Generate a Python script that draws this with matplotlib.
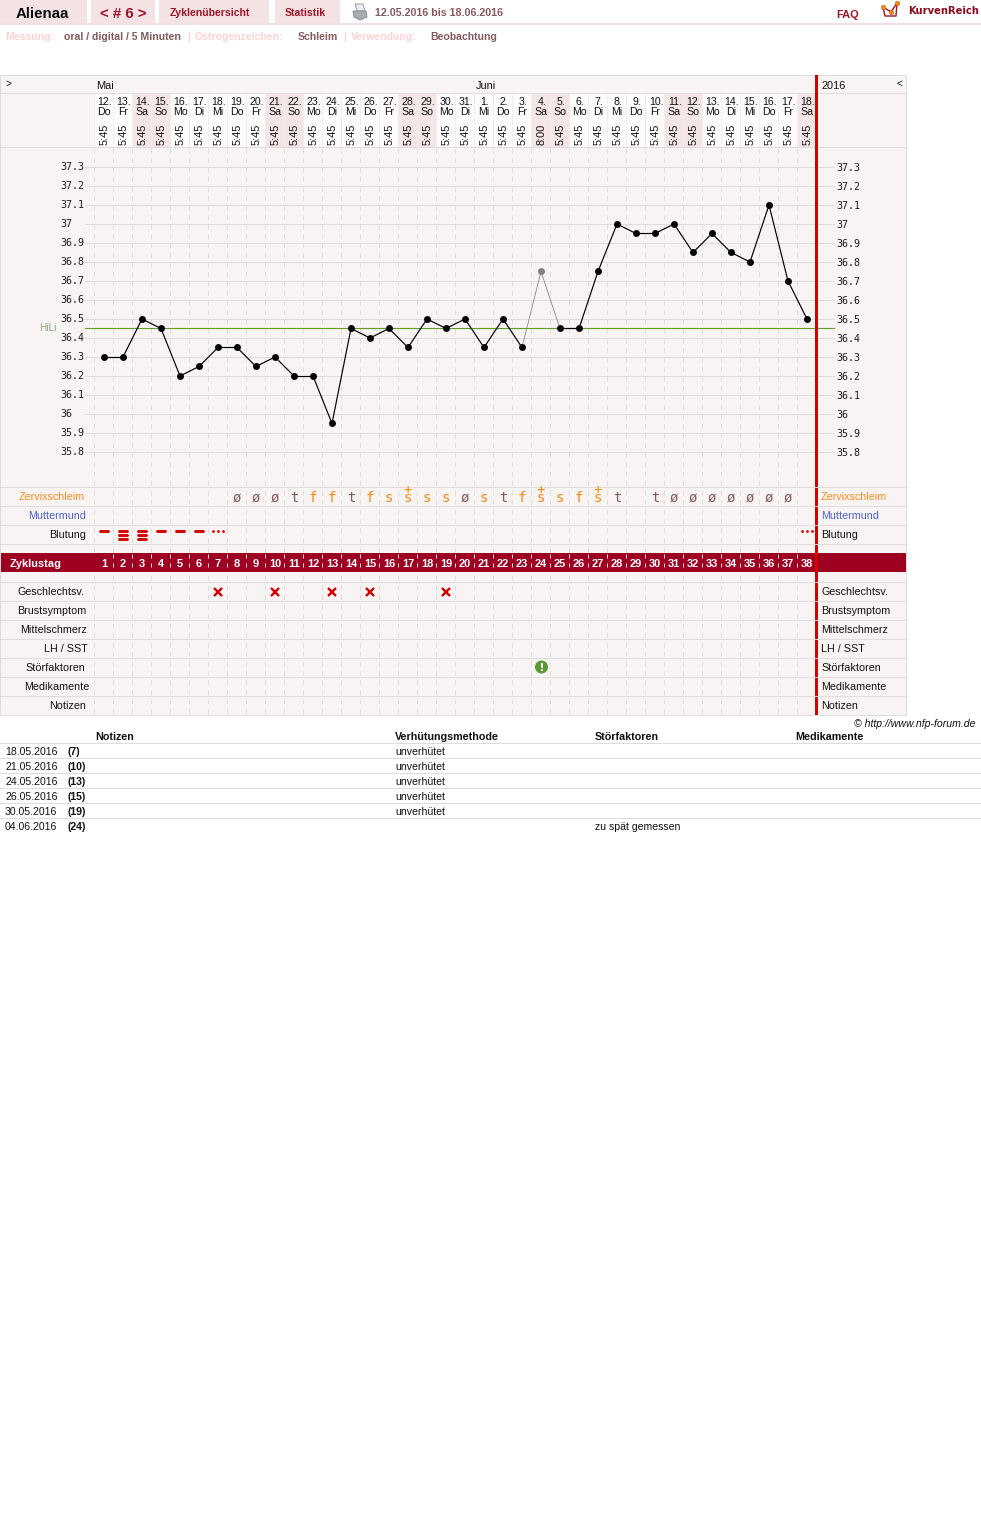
import matplotlib
matplotlib.use('Agg')
import matplotlib.pyplot as plt
from matplotlib.patches import Rectangle, Circle, Polygon

W, H = 981, 1515

# chart data
cycle_days = list(range(1, 39))
temps = [36.3, 36.3, 36.5, 36.45, 36.2, 36.25, 36.35, 36.35, 36.25, 36.3,
         36.2, 36.2, 35.95, 36.45, 36.4, 36.45, 36.35, 36.5, 36.45, 36.5,
         36.35, 36.5, 36.35, 36.75, 36.45, 36.45, 36.75, 37.0, 36.95, 36.95,
         37.0, 36.85, 36.95, 36.85, 36.8, 37.1, 36.7, 36.5]
excluded_days = [24]
hili = 36.45
temp_ticks = [35.8, 35.9, 36, 36.1, 36.2, 36.3, 36.4, 36.5, 36.6, 36.7, 36.8, 36.9, 37, 37.1, 37.2, 37.3]
dates = ['12.', '13.', '14.', '15.', '16.', '17.', '18.', '19.', '20.', '21.', '22.', '23.', '24.',
         '25.', '26.', '27.', '28.', '29.', '30.', '31.', '1.', '2.', '3.', '4.', '5.', '6.', '7.',
         '8.', '9.', '10.', '11.', '12.', '13.', '14.', '15.', '16.', '17.', '18.']
weekdays = ['Do', 'Fr', 'Sa', 'So', 'Mo', 'Di', 'Mi'] * 5 + ['Do', 'Fr', 'Sa']
times = ['5:45'] * 38
times[23] = '8:00'
mucus = [''] * 7 + ['ø', 'ø', 'ø', 't', 'f', 'f', 't', 'f', 's', 's+', 's', 's', 'ø', 's', 't', 'f',
                    's+', 's', 'f', 's+', 't', '', 't', 'ø', 'ø', 'ø', 'ø', 'ø', 'ø', 'ø', '']
bleeding_single = [1, 4, 5, 6]
bleeding_heavy = [2, 3]
bleeding_spot = [7, 38]
sex_days = [7, 10, 13, 15, 19]
disturb_days = [24]

left_labels = ['Zervixschleim', 'Muttermund', 'Blutung', 'Geschlechtsv.', 'Brustsymptom',
               'Mittelschmerz', 'LH / SST', 'Störfaktoren', 'Medikamente', 'Notizen']
left_ends = [85, 86, 86, 84, 86, 87, 88, 85, 89, 86]
label_rows = [496, 515, 534, 591, 610, 629, 648, 667, 686, 705]
label_colors = ['#ff8a1e', '#4c62cc', '#111111'] + ['#111111'] * 7

note_dates = ['18.05.2016', '21.05.2016', '24.05.2016', '26.05.2016', '30.05.2016', '04.06.2016']
note_cycle = ['(7)', '(10)', '(13)', '(15)', '(19)', '(24)']
note_method = ['unverhütet'] * 5 + ['']
note_disturb = [''] * 5 + ['zu spät gemessen']
note_heads = ['Notizen', 'Verhütungsmethode', 'Störfaktoren', 'Medikamente']
note_head_x = [95, 395, 595, 795]

PANEL = '#f9f4f4'
LINE = '#e0dcdb'
TAB = '#f4e3e5'
WEEKEND = '#f4e5e6'
DARK = '#9e0021'
RED = '#d50000'
BROWN = '#855a5f'
PINK = '#fbd3d5'
TABRED = '#a01428'
ORANGE = '#f58a12'
SANS = ['Liberation Sans', 'DejaVu Sans']
NARROW = ['Liberation Sans Narrow', 'Liberation Sans', 'DejaVu Sans']
MONO = ['DejaVu Sans Mono']


def px(size):
    return size * 0.72


def day_x(d):
    return 104 + 19 * (d - 1)


def page_axes(fig, z):
    a = fig.add_axes([0, 0, 1, 1], facecolor='none', zorder=z)
    a.set_xlim(0, W)
    a.set_ylim(H, 0)
    a.axis('off')
    return a


def txt(a, x, y, s, size=11, color='#111111', ha='left', weight='normal', family=SANS, **kw):
    # y is the middle of the capitals, drawn from the baseline so rows stay even
    return a.text(x, round(y + 0.36 * size), s, fontsize=px(size), color=color, ha=ha, va='baseline',
                  fontweight=weight, family=family, **kw)


fig = plt.figure(figsize=(W / 100, H / 100), dpi=100, facecolor='white')
bg = page_axes(fig, 0)
fg = page_axes(fig, 2)

# panel background
bg.add_patch(Rectangle((0, 75), 906, 640, fc=PANEL, ec=LINE, lw=0.72))
bg.add_patch(Rectangle((94, 94), 721, 53, fc='#fefbfb', ec='none'))
for d, wd in zip(cycle_days, weekdays):
    if wd in ('Sa', 'So'):
        bg.add_patch(Rectangle((day_x(d) - 10, 94), 19, 53, fc=WEEKEND, ec='none'))
for d in cycle_days:
    sx = day_x(d) - 10
    bg.plot([sx, sx], [94, 147], color='#f3eeee', lw=0.72)
    bg.plot([sx, sx], [148, 715], color=LINE, lw=0.72, ls=(0, (5, 4.5)))
    if d > 1:
        fg.plot([sx, sx], [554, 571], color='#f0d8dc', lw=0.72, ls=(0, (4, 5)))

# header
for x0, x1 in [(0, 87), (91, 155), (159, 269), (275, 340)]:
    bg.add_patch(Rectangle((x0, 0), x1 - x0, 23, fc=TAB, ec='none'))
bg.add_patch(Rectangle((0, 23), W, 2, fc='#f3dfe2', ec='none'))
txt(fg, 42, 12.5, 'Alienaa', 15, '#0a0a0a', ha='center', weight='bold')
txt(fg, 123.5, 12.5, '< # 6 >', 15, TABRED, ha='center', weight='bold')
txt(fg, 210, 12.5, 'Zyklenübersicht', 10.5, TABRED, ha='center', weight='bold')
txt(fg, 305.5, 12.5, 'Statistik', 10.5, TABRED, ha='center', weight='bold')
txt(fg, 375, 12.5, '12.05.2016 bis 18.06.2016', 10.6, BROWN, weight='bold')
txt(fg, 836, 14, 'FAQ', 11, TABRED, weight='bold')
txt(fg, 908, 10, 'KurvenReich', 10, '#8c0a1e', weight='bold', family=['DejaVu Sans'])
# printer icon
fg.add_patch(Polygon([(355, 4), (363, 4), (365, 11), (357, 11)], fc='#e8eef2', ec='#8c9499', lw=0.6))
fg.add_patch(Polygon([(353, 11), (366, 11), (367, 17), (360, 20), (354, 17)], fc='#a8adb0', ec='#7c8286', lw=0.6))
# logo
fg.plot([883, 885, 896, 897], [7, 16, 16, 3], color=TABRED, lw=1)
fg.plot([883, 891, 897], [7, 12, 3], color=TABRED, lw=1)
fg.plot([883, 891, 897], [7, 12, 3], ls='none', marker='o', ms=3.2, mfc='#f08a1e', mec='#c85a10', mew=0.4)

# sub header
txt(fg, 5, 36, 'Messung:', 10.5, PINK, weight='bold')
txt(fg, 64, 36, 'oral / digital / 5 Minuten', 10.5, BROWN, weight='bold')
txt(fg, 187, 36, '|', 10.5, PINK, weight='bold')
txt(fg, 195, 36, 'Östrogenzeichen:', 10.5, PINK, weight='bold')
txt(fg, 298, 36, 'Schleim', 10.5, BROWN, weight='bold')
txt(fg, 343, 36, '|', 10.5, PINK, weight='bold')
txt(fg, 351, 36, 'Verwendung:', 10.5, PINK, weight='bold')
txt(fg, 430, 36, 'Beobachtung', 10.5, BROWN, weight='bold')

# top rows of the panel
bg.plot([0, 906], [93, 93], color=LINE, lw=0.72)
bg.plot([0, 906], [147, 147], color=LINE, lw=0.72)
txt(fg, 5, 83, '>', 10)
txt(fg, 902, 83, '<', 10, ha='right')
txt(fg, 96, 85, 'Mai', 11, family=NARROW)
txt(fg, 476, 85, 'Juni', 11, family=NARROW)
txt(fg, 821, 85, '2016', 11, family=NARROW)
for d, dt, wd, tm in zip(cycle_days, dates, weekdays, times):
    txt(fg, day_x(d) + 1, 101, dt, 10.5, ha='center', family=NARROW)
    txt(fg, day_x(d), 111, wd, 10.5, ha='center', family=NARROW)
    fg.text(day_x(d) + 0.5, 134, tm, fontsize=px(11), color='#111111', ha='center', va='center',
            rotation=90, family=NARROW)

# temperature curve
ax = fig.add_axes([85 / W, 1 - 487 / H, 750 / W, 339 / H], facecolor='none', zorder=1)
ax.set_xlim(1 + (85 - 104) / 19, 1 + (835 - 104) / 19)
ax.set_ylim(37.3 - (487 - 167) / 190, 37.3 - (148 - 167) / 190)
for s in ax.spines.values():
    s.set_visible(False)
ax.set_xticks([])
ax.set_yticks(temp_ticks)
ax.set_yticklabels(['%g' % t for t in temp_ticks], family=MONO, fontsize=px(10), color='#1a1a1a')
ax.tick_params(axis='y', length=0, pad=1, labelleft=False, labelright=True)
ax.grid(axis='y', color=LINE, lw=0.72)
ax.set_axisbelow(True)
for t in temp_ticks:
    ax.text((60 - 85) / 750, t, '%g' % t, transform=ax.get_yaxis_transform(), family=MONO,
            fontsize=px(10), color='#1a1a1a', ha='left', va='center')
ax.axhline(hili, color='#5f9e22', lw=0.8, zorder=2)
ax.text((56 - 85) / 750, hili, 'HiLi', transform=ax.get_yaxis_transform(), fontsize=px(10), color='#8aa878',
        ha='right', va='center', family=SANS)
# grey segment runs up to the excluded reading and down from it
for d in range(1, 38):
    grey = d in excluded_days or d + 1 in excluded_days
    ax.plot(cycle_days[d - 1:d + 1], temps[d - 1:d + 1], color='#888888' if grey else 'black',
            lw=0.6 if grey else 0.85, zorder=3)
for d, t in zip(cycle_days, temps):
    ax.plot([d], [t], ls='none', marker='o', ms=5, mew=0, color='#808080' if d in excluded_days else 'black', zorder=4)

# cycle bar
fg.add_patch(Rectangle((1, 553), 905, 19, fc=DARK, ec='none', zorder=0.5))
txt(fg, 10, 563, 'Zyklustag', 11, 'white', weight='bold')
for d in cycle_days:
    txt(fg, day_x(d), 563, str(d), 11, 'white', ha='center', weight='bold', zorder=3)

# red cycle end marker, row lines sit on top of it
fg.add_patch(Rectangle((815, 75), 3, 640, fc=RED, ec='none', zorder=1.5))
for y in [487, 506, 525, 544, 582, 601, 620, 639, 658, 677, 696, 715]:
    fg.plot([0, 906], [y, y], color=LINE, lw=0.72, zorder=2)

# row labels
for lab, end, y, c in zip(left_labels, left_ends, label_rows, label_colors):
    txt(fg, end, y, lab, 10.7, c, ha='right')
    txt(fg, 821, y, lab, 10.7, c)

# cervical mucus symbols, a plus stacked over the letter
for d, m in zip(cycle_days, mucus):
    if not m:
        continue
    c = ORANGE if m[0] in 'fs' else BROWN
    label = '+\n' + m[0] if m.endswith('+') else m[0]
    fg.text(day_x(d), 502, label, fontsize=px(14), color=c, ha='center', va='baseline',
            family=MONO, linespacing=0.42, multialignment='center')

# bleeding
for d in bleeding_single:
    fg.plot([day_x(d) - 4, day_x(d) + 4], [530.5, 530.5], color=RED, lw=2.1, solid_capstyle='round')
for d in bleeding_heavy:
    for y in (530.5, 534.5, 538.5):
        fg.plot([day_x(d) - 4, day_x(d) + 4], [y, y], color=RED, lw=2.1, solid_capstyle='round')
for d in bleeding_spot:
    fg.plot([day_x(d) - 5, day_x(d), day_x(d) + 4.5], [530.5] * 3, ls='none', marker='o', ms=2, mew=0, color=RED)

# intercourse and disturbance marks
fg.plot([day_x(d) for d in sex_days], [591.5] * len(sex_days), ls='none', marker='x', ms=6.2, mew=1.7, color=RED)
for d in disturb_days:
    fg.add_patch(Circle((day_x(d) + 0.5, 667), 6.5, fc='#5b9a32', ec='none'))
    fg.add_patch(Rectangle((day_x(d) - 0.5, 663), 2, 5, fc='white', ec='none'))
    fg.add_patch(Rectangle((day_x(d) - 0.5, 669), 2, 2, fc='white', ec='none'))

# notes table
txt(fg, 976, 723, '© http://www.nfp-forum.de', 10.5, ha='right', style='italic')
for s, x in zip(note_heads, note_head_x):
    txt(fg, x, 736, s, 10.8, weight='bold')
fg.plot([0, W], [743, 743], color=LINE, lw=0.72)
for i, (nd, nc, nm, ns) in enumerate(zip(note_dates, note_cycle, note_method, note_disturb)):
    y = 751 + 15 * i
    txt(fg, 5, y, nd, 10.5)
    txt(fg, 68, y, nc, 10.5, weight='bold')
    txt(fg, 395, y, nm, 10.5)
    txt(fg, 595, y, ns, 10.5)
    if i < 5:
        fg.plot([0, W], [758 + 15 * i, 758 + 15 * i], color=LINE, lw=0.72)

fig.savefig('out.png', dpi=100, facecolor='white')
